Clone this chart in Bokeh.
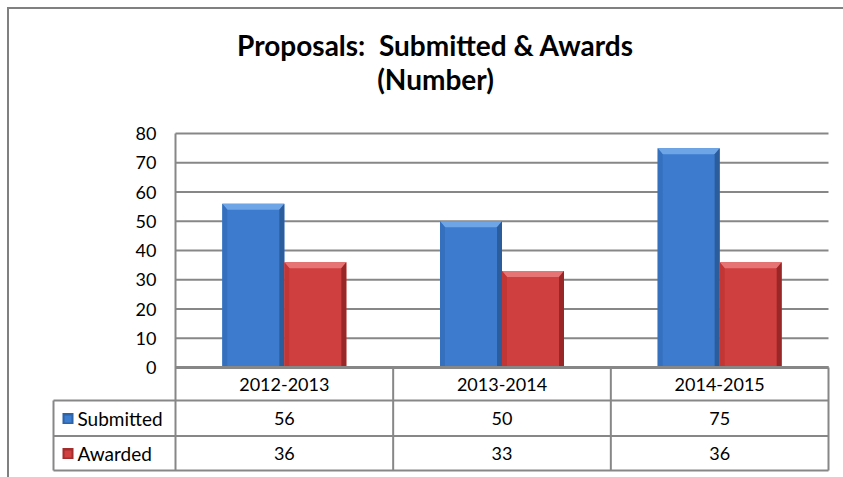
from bokeh.plotting import figure
from bokeh.models import Range1d
from bokeh.core.properties import value
from bokeh.embed import file_html
from bokeh.resources import INLINE

# ---- data ----
categories = ["2012-2013", "2013-2014", "2014-2015"]
submitted = [56, 50, 75]
awarded = [36, 33, 36]
series_names = ["Submitted", "Awarded"]
y_ticks = [0, 10, 20, 30, 40, 50, 60, 70, 80]
title_lines = ["Proposals:\u00a0 Submitted & Awards", "(Number)"]

# ---- layout (page pixel geometry) ----
W, H = 843, 477
PL, PR = 175, 828              # plot area left/right (page px)
P0, P80 = 367, 133             # y=0 and y=80 (page px)
PX = (PR - PL) / len(categories)
YS = (P0 - P80) / 80.0

def dx(px):
    return (px - PL) / PX

def dy(py):
    return (P0 - py) / YS

p = figure(width=W, height=H, output_backend="svg", toolbar_location=None,
           x_range=Range1d(dx(0), dx(W)), y_range=Range1d(dy(H), dy(0)),
           x_axis_location=None, y_axis_location=None, min_border=0)
p.grid.visible = False
p.outline_line_color = None
p.background_fill_color = "white"
p.border_fill_color = "white"

GRAY = "#878787"
FONT = "Lato"

# outer chart border (top & left; rest is cropped)
p.segment(x0=[dx(7.5), dx(6.5)], y0=[dy(6.5), dy(7.5)],
          x1=[dx(7.5), dx(W + 5)], y1=[dy(H + 5), dy(7.5)],
          line_color="#808080", line_width=2)

# gridlines
p.segment(x0=[0] * len(y_ticks), x1=[len(categories)] * len(y_ticks),
          y0=y_ticks, y1=y_ticks, line_color=GRAY,
          line_width=[3 if t == 0 else 2 for t in y_ticks])

# y tick labels
p.text(x=[dx(156)] * len(y_ticks), y=y_ticks, text=[str(t) for t in y_ticks],
       text_align="right", text_baseline="middle", text_font=value(FONT),
       text_font_size="18px", text_color="#000000")

# bars with bevel
n = len(categories)
bw = 62 / PX
centers = [i + 0.5 for i in range(n)]
styles = [
    (submitted, -bw / 2, dict(main="#3c7bce", top="#6ea5e6", left="#3470bd",
                                right="#2b5c9c", bot="#2d5f9f")),
    (awarded, bw / 2, dict(main="#d03f3f", top="#e67474", left="#c23636",
                             right="#9a2727", bot="#a02a2a")),
]
bx = 5 / PX
by = 6 / YS
for vals, off, col in styles:
    xs = [c + off for c in centers]
    x0 = [x - bw / 2 for x in xs]
    x1 = [x + bw / 2 for x in xs]
    p.vbar(x=xs, top=vals, bottom=0, width=bw, fill_color=col["main"], line_color=None)
    # top bevel
    p.patches(xs=[[a, b, b - bx, a + bx] for a, b in zip(x0, x1)],
              ys=[[v, v, v - by, v - by] for v in vals],
              fill_color=col["top"], line_color=None)
    # left bevel
    p.patches(xs=[[a, a + bx, a + bx, a] for a in x0],
              ys=[[v, v - by, 0, 0] for v in vals],
              fill_color=col["left"], line_color=None)
    # right bevel
    p.patches(xs=[[b, b - bx, b - bx, b] for b in x1],
              ys=[[v, v - by, 0, 0] for v in vals],
              fill_color=col["right"], line_color=None)

# data table lines
r1, r2, t_bot = 400, 435.5, 470
p.segment(x0=[dx(53)] * 3, x1=[dx(PR)] * 3,
          y0=[dy(r1), dy(r2), dy(t_bot)], y1=[dy(r1), dy(r2), dy(t_bot)],
          line_color=GRAY, line_width=2)
p.segment(x0=[0], x1=[0], y0=[80], y1=[dy(t_bot)], line_color=GRAY, line_width=2)
vx = [i + 1 for i in range(n)]
p.segment(x0=vx, x1=vx, y0=[0] * n, y1=[dy(t_bot)] * n, line_color=GRAY, line_width=2)
p.segment(x0=[dx(53)], x1=[dx(53)], y0=[dy(r1)], y1=[dy(t_bot)], line_color=GRAY, line_width=2)
# x axis line on top of bars
p.segment(x0=[0], x1=[n], y0=[0], y1=[0], line_color=GRAY, line_width=3)

# category header
p.text(x=centers, y=[dy(383.5)] * n, text=categories, text_align="center",
       text_baseline="middle", text_font=value(FONT), text_font_size="18px",
       text_color="#000000")

# series rows
row_y = [dy(418), dy(452.5)]
for k, vals in enumerate([submitted, awarded]):
    p.text(x=centers, y=[row_y[k]] * n, text=[str(v) for v in vals],
           text_align="center", text_baseline="middle", text_font=value(FONT),
           text_font_size="18px", text_color="#000000")
p.text(x=[dx(77)] * 2, y=row_y, text=series_names, text_align="left",
       text_baseline="middle", text_font=value(FONT), text_font_size="19px",
       text_color="#000000")

# legend keys
sq_dark = ["#2e63a6", "#a22d2d"]
sq_main = ["#3d7dd0", "#d13f3f"]
p.quad(left=[dx(62)] * 2, right=[dx(73)] * 2,
       top=[dy(412.5), dy(447.5)], bottom=[dy(423.5), dy(458.5)],
       fill_color=sq_dark, line_color=None)
p.quad(left=[dx(64)] * 2, right=[dx(71)] * 2,
       top=[dy(415), dy(450)], bottom=[dy(422), dy(457)],
       fill_color=sq_main, line_color=None)

# title
p.text(x=[dx(435)] * 2, y=[dy(44), dy(78)], text=title_lines, text_align="center",
       text_baseline="middle", text_font=value(FONT), text_font_size="28px",
       text_font_style="bold", text_color="#000000")

open("out.html", "w").write(file_html(p, INLINE))
